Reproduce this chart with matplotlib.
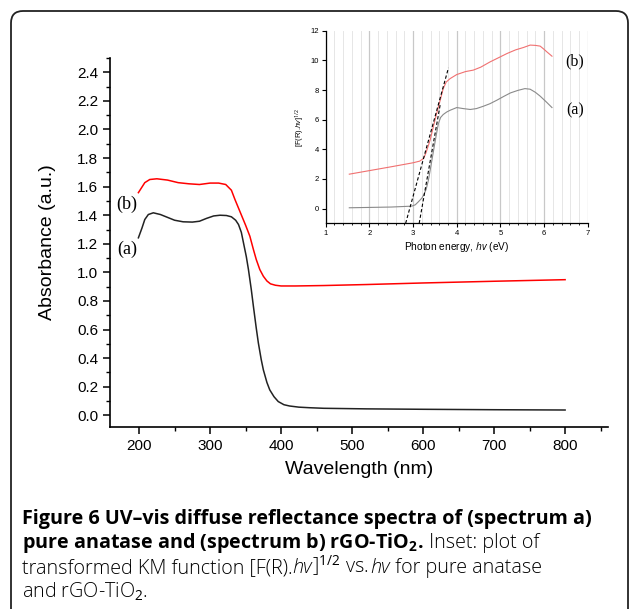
import matplotlib
matplotlib.use("Agg")
import matplotlib.pyplot as plt
from matplotlib.patches import FancyBboxPatch
from matplotlib.transforms import IdentityTransform
from matplotlib.ticker import MultipleLocator

plt.rcParams['font.family'] = ['Liberation Sans', 'DejaVu Sans']
plt.rcParams['mathtext.fontset'] = 'custom'
plt.rcParams['mathtext.rm'] = 'Open Sans'
plt.rcParams['mathtext.it'] = 'Open Sans:italic'
plt.rcParams['mathtext.bf'] = 'Open Sans:bold'

# main spectra
wl_b = [199, 208, 215, 225, 240, 255, 270, 285, 300, 312, 322, 330, 335, 340, 345, 350, 356, 361, 365, 370,
        375, 380, 385, 392, 400, 420, 460, 520, 600, 700, 800]
abs_b = [1.558, 1.628, 1.65, 1.655, 1.646, 1.628, 1.62, 1.615, 1.625, 1.625, 1.615, 1.575, 1.51, 1.45, 1.39,
         1.33, 1.253, 1.16, 1.09, 1.02, 0.973, 0.94, 0.92, 0.91, 0.905, 0.905, 0.908, 0.915, 0.926, 0.938, 0.949]
wl_a = [199, 204, 208, 213, 220, 230, 240, 250, 262, 275, 285, 295, 305, 314, 323, 330, 336, 340, 344, 347,
        351, 354, 358, 361, 365, 368, 372, 375, 380, 384, 390, 396, 404, 412, 425, 440, 460, 520, 600, 700, 800]
abs_a = [1.242, 1.31, 1.37, 1.405, 1.417, 1.405, 1.385, 1.365, 1.354, 1.352, 1.358, 1.378, 1.395, 1.40, 1.398,
         1.389, 1.365, 1.335, 1.28, 1.207, 1.11, 1.02, 0.88, 0.762, 0.61, 0.505, 0.39, 0.318, 0.23, 0.178, 0.13,
         0.096, 0.074, 0.065, 0.057, 0.053, 0.049, 0.045, 0.042, 0.039, 0.037]

# inset: transformed KM function
hv_b = [1.54, 2.0, 2.5, 3.0, 3.15, 3.24, 3.3, 3.39, 3.47, 3.54, 3.62, 3.69, 3.76, 3.85, 4.0, 4.2, 4.38, 4.55,
        4.76, 5.0, 5.15, 5.35, 5.53, 5.68, 5.8, 5.91, 6.0, 6.06, 6.18]
km_b = [2.32, 2.56, 2.82, 3.09, 3.2, 3.38, 3.8, 4.62, 5.6, 6.42, 7.3, 8.1, 8.55, 8.78, 9.05, 9.25, 9.35, 9.55,
        9.9, 10.25, 10.47, 10.72, 10.88, 11.04, 11.02, 10.97, 10.75, 10.59, 10.29]
hv_a = [1.54, 2.5, 2.97, 3.05, 3.12, 3.2, 3.24, 3.3, 3.35, 3.41, 3.47, 3.53, 3.58, 3.63, 3.69, 3.77, 3.85, 4.0,
        4.15, 4.31, 4.45, 4.61, 4.76, 4.92, 5.08, 5.23, 5.4, 5.56, 5.68, 5.8, 5.91, 6.05, 6.18]
km_a = [0.05, 0.1, 0.16, 0.25, 0.45, 0.7, 0.9, 1.3, 1.9, 2.9, 3.94, 4.95, 5.74, 6.15, 6.35, 6.52, 6.64, 6.82,
        6.75, 6.69, 6.75, 6.91, 7.08, 7.32, 7.58, 7.81, 7.98, 8.1, 8.06, 7.85, 7.59, 7.2, 6.82]
tan_b_x, tan_b_y = [2.83, 3.81], [-1.0, 9.5]
tan_a_x, tan_a_y = [3.14, 3.62], [-1.0, 7.0]

fig = plt.figure(figsize=(6.3, 6.09), dpi=100)
H = 609

# rounded frame around the figure (pixel coords, open at the bottom)
frame = FancyBboxPatch((11, -30), 617, H - 11 + 30, boxstyle="round,pad=0,rounding_size=12",
                       transform=IdentityTransform(), fill=False, edgecolor='#222222', linewidth=1.3)
fig.patches.append(frame)

ax = fig.add_axes([0.1746, 0.2993, 0.790, 0.6054])
ax.plot(wl_b, abs_b, color='red', lw=1.1)
ax.plot(wl_a, abs_a, color='#222222', lw=1.1)
ax.set_xlim(159, 860)
ax.set_ylim(-0.08, 2.5)
ax.set_xticks([200, 300, 400, 500, 600, 700, 800])
ax.set_yticks([0.0, 0.2, 0.4, 0.6, 0.8, 1.0, 1.2, 1.4, 1.6, 1.8, 2.0, 2.2, 2.4])
ax.xaxis.set_minor_locator(MultipleLocator(50))
ax.yaxis.set_minor_locator(MultipleLocator(0.1))
ax.spines['top'].set_visible(False)
ax.spines['right'].set_visible(False)
for s in ['left', 'bottom']:
    ax.spines[s].set_linewidth(1.2)
ax.tick_params(which='major', direction='out', length=5, width=1.1, labelsize=11)
ax.tick_params(which='minor', direction='out', length=3, width=1.0)
ax.set_xlabel('Wavelength (nm)', fontsize=14, labelpad=6)
ax.set_ylabel('Absorbance (a.u.)', fontsize=14, labelpad=15)
ax.text(183, 1.476, '(b)', family='Liberation Serif', fontsize=13, ha='center', va='center', clip_on=False)
ax.text(183, 1.16, '(a)', family='Liberation Serif', fontsize=13, ha='center', va='center', clip_on=False)

# inset
ins = fig.add_axes([0.517, 0.6333, 0.416, 0.316])
ins.set_xlim(1, 7)
ins.set_ylim(-1, 12)
ins.xaxis.set_minor_locator(MultipleLocator(0.2))
ins.set_xticks([1, 2, 3, 4, 5, 6, 7])
ins.set_yticks([0, 2, 4, 6, 8, 10, 12])
ins.grid(True, which='major', axis='x', color='#c8c8c8', lw=0.9)
ins.grid(True, which='minor', axis='x', color='#e6e6e6', lw=0.7)
ins.set_axisbelow(True)
ins.plot(hv_b, km_b, color='#f07070', lw=0.8)
ins.plot(hv_a, km_a, color='#8a8a8a', lw=0.8)
ins.plot(tan_b_x, tan_b_y, color='black', lw=0.8, ls=(0, (3, 2)))
ins.plot(tan_a_x, tan_a_y, color='black', lw=0.8, ls=(0, (3, 2)))
ins.spines['top'].set_visible(False)
ins.spines['right'].set_visible(False)
for s in ['left', 'bottom']:
    ins.spines[s].set_linewidth(0.9)
ins.tick_params(which='major', direction='out', length=3, width=0.8, labelsize=5.5, pad=2)
ins.tick_params(which='minor', direction='out', length=1.5, width=0.6)
ins.tick_params(axis='y', which='minor', left=False)
ins.set_xlabel('Photon energy, $\\it{hv}$ (eV)', fontsize=7.3, labelpad=2)
ins.set_ylabel('[F(R).$\\it{hv}$]$^{1/2}$', fontsize=5.5, labelpad=2)
ins.text(6.71, 9.95, '(b)', family='Liberation Serif', fontsize=11.5, ha='center', va='center', clip_on=False)
ins.text(6.71, 6.64, '(a)', family='Liberation Serif', fontsize=11.5, ha='center', va='center', clip_on=False)

# caption, placed piece by piece in pixel coordinates
renderer = fig.canvas.get_renderer()
cap_size = 14.2
bold = dict(family='Open Sans', weight='bold', fontsize=cap_size)
reg = dict(family='Open Sans', weight='light', fontsize=cap_size)
ital = dict(family='Open Sans', weight='light', style='italic', fontsize=cap_size)

lines = [
    (524, [('Figure 6 UV\u2013vis diffuse reflectance spectra of (spectrum a)', bold)]),
    (548, [('pure anatase and (spectrum b) rGO-TiO$_\\mathbf{2}$.', bold), (' Inset: plot of', reg)]),
    (573, [('transformed KM function [F(R).', reg), ('hv', ital), (']$^{1/2}$ vs. ', reg), ('hv', ital),
           (' for pure anatase', reg)]),
    (598, [('and rGO-TiO$_2$.', reg)]),
]
for base, pieces in lines:
    x = 22
    for txt, kw in pieces:
        t = fig.text(x, H - base, txt, transform=IdentityTransform(), va='baseline', ha='left', **kw)
        x += t.get_window_extent(renderer).width

fig.savefig('out.png', dpi=100)
